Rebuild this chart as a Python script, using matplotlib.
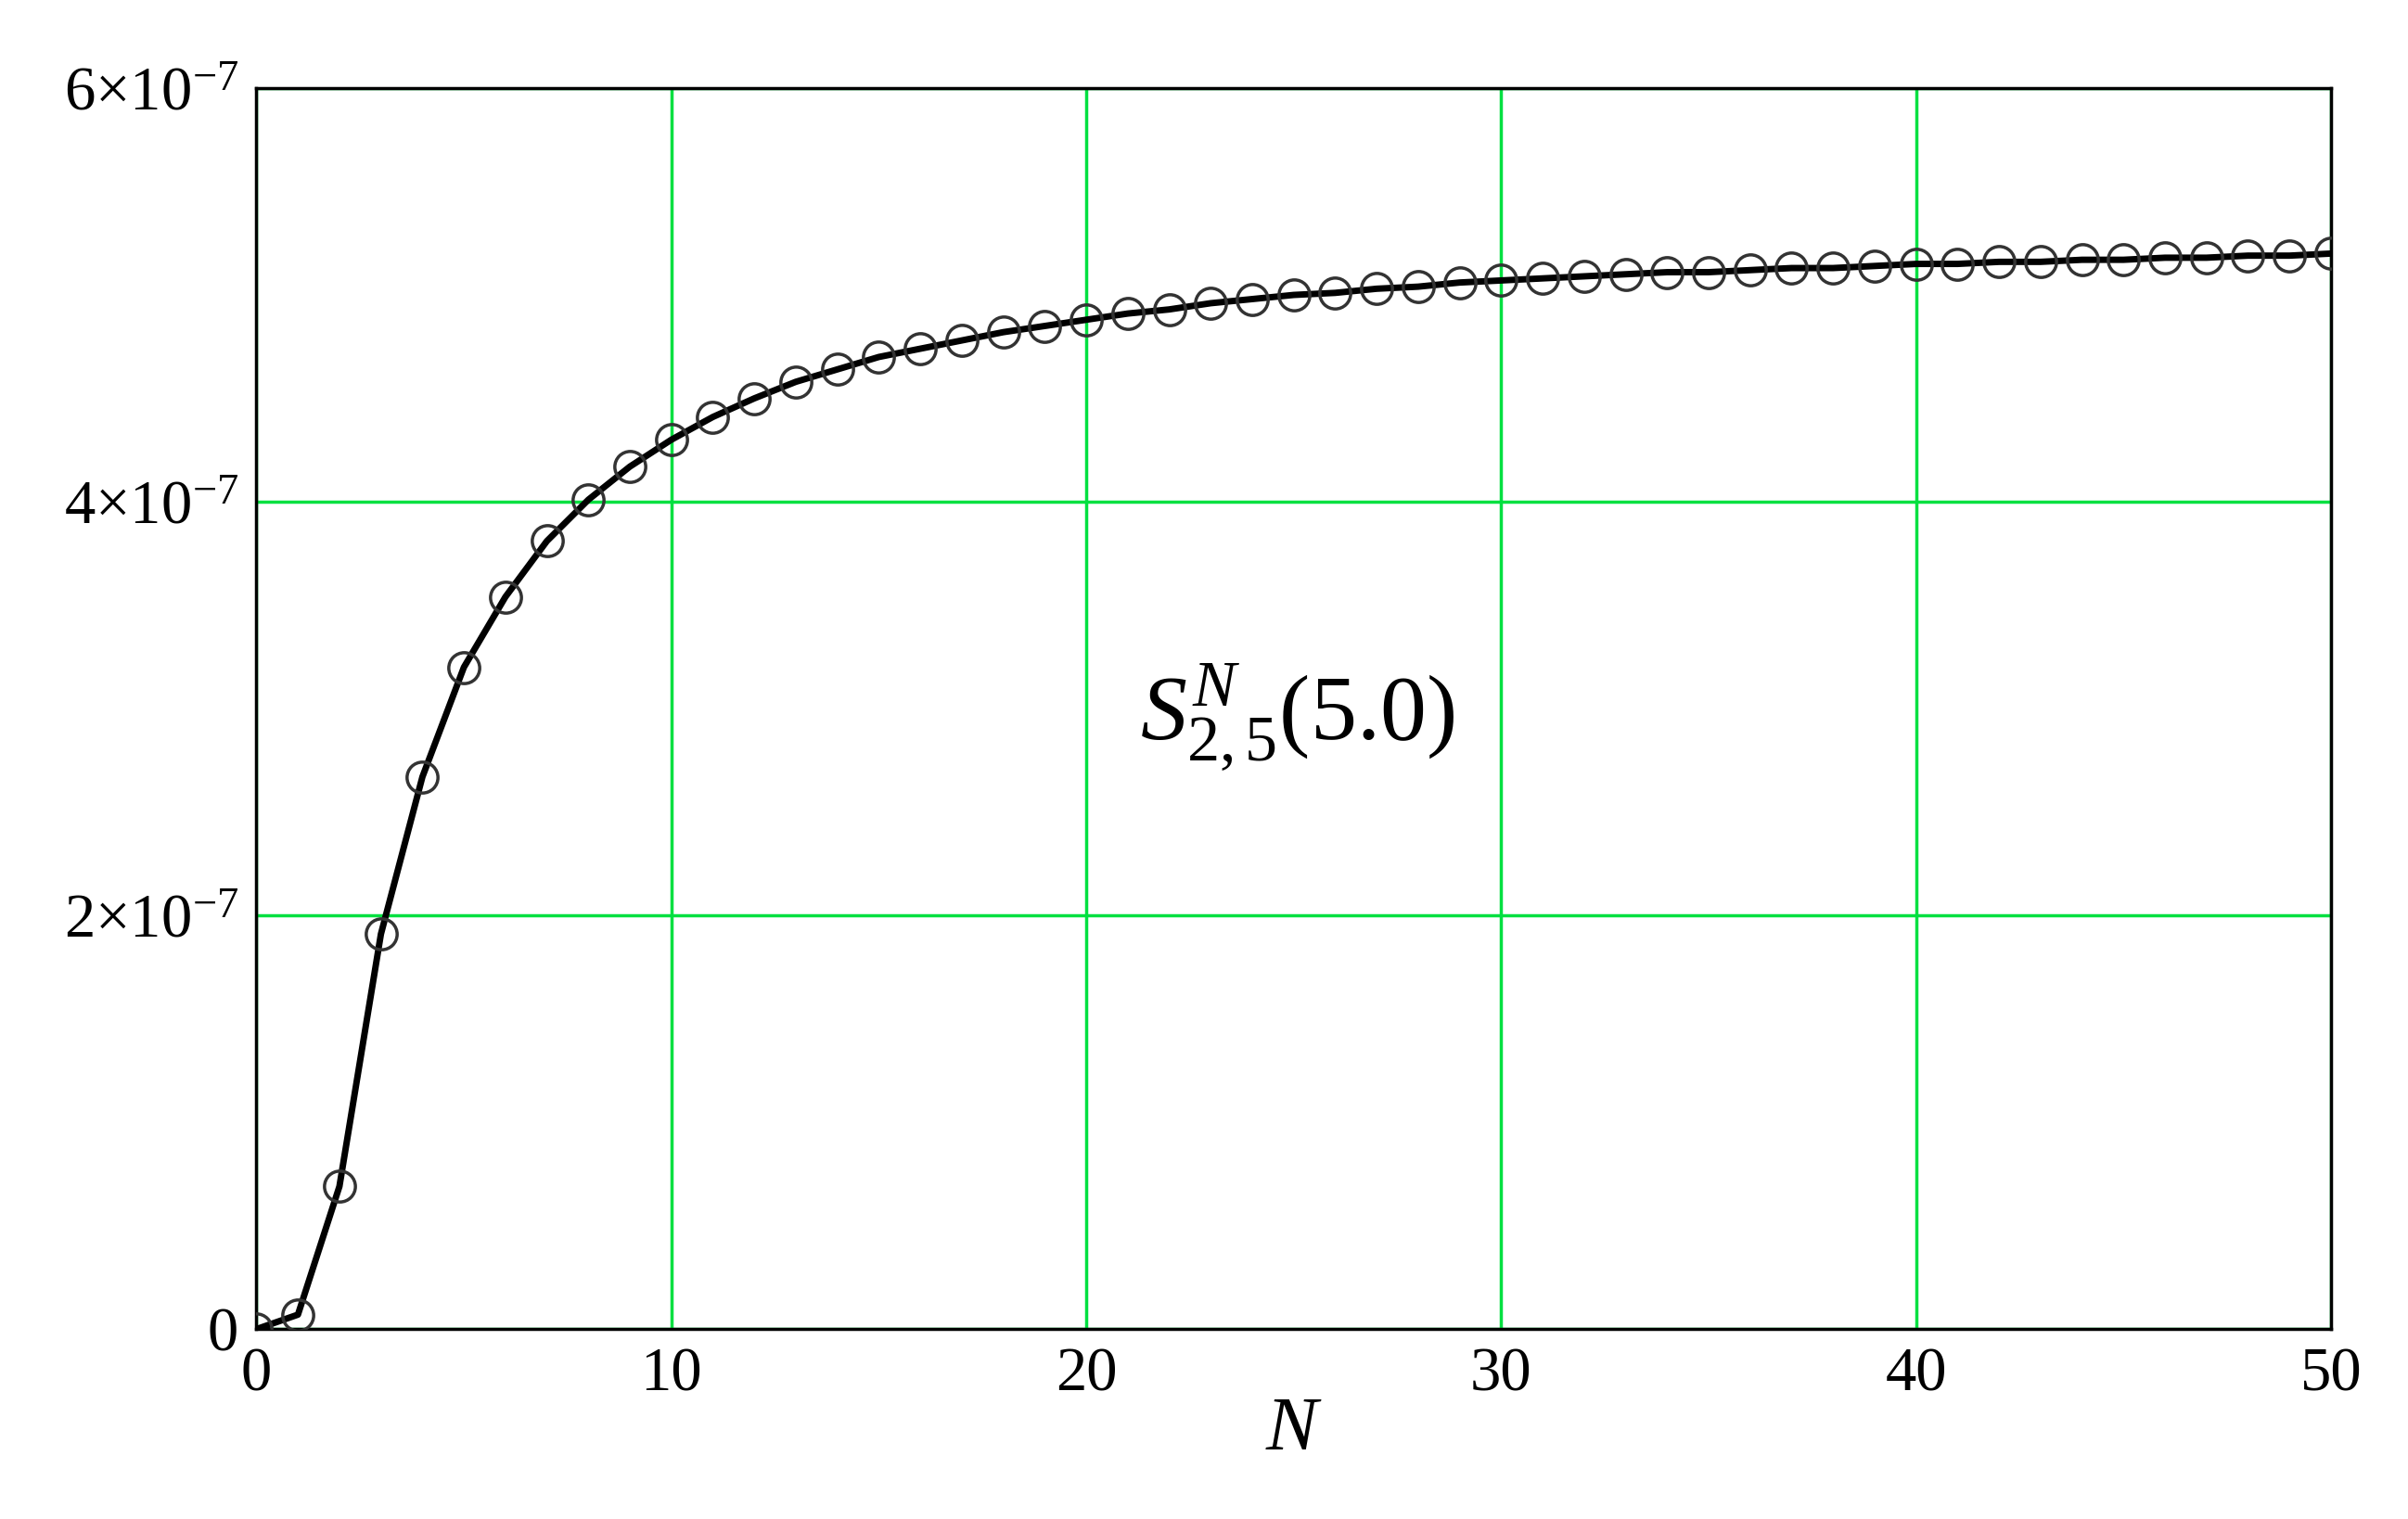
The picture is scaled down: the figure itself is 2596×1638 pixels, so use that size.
import matplotlib
matplotlib.use("Agg")
import matplotlib.pyplot as plt
import numpy as np

N = list(range(51))
S = [0.0, 0.07, 0.69, 1.91, 2.67, 3.20, 3.54, 3.81, 4.01, 4.17, 4.30, 4.41, 4.50, 4.58, 4.64,
     4.70, 4.74, 4.78, 4.82, 4.85, 4.88, 4.91, 4.93, 4.96, 4.98, 5.00, 5.01, 5.03, 5.04, 5.06,
     5.07, 5.08, 5.09, 5.10, 5.11, 5.11, 5.12, 5.13, 5.13, 5.14, 5.15, 5.15, 5.16, 5.16, 5.17,
     5.17, 5.18, 5.18, 5.19, 5.19, 5.20]
S = [v * 1e-7 for v in S]
xticks = [0, 10, 20, 30, 40, 50]
yticks = [0, 2e-7, 4e-7, 6e-7]
ylabels = ["0", r"$2{\times}10^{-7}$", r"$4{\times}10^{-7}$", r"$6{\times}10^{-7}$"]

plt.rcParams['font.family'] = ['Liberation Serif', 'DejaVu Serif']
plt.rcParams['mathtext.fontset'] = 'custom'
plt.rcParams['mathtext.rm'] = 'Liberation Serif'
plt.rcParams['mathtext.it'] = 'Liberation Serif:italic'

fig = plt.figure(figsize=(25.96, 16.38), dpi=100)
ax = fig.add_axes([0.1065, 0.125, 0.8615, 0.817])
ax.plot(N, S, color='black', lw=5, zorder=3)
ax.plot(N, S, 'o', mfc='none', mec='#333333', ms=24, mew=2.5, zorder=4)
ax.set_xlim(0, 50)
ax.set_ylim(0, 6e-7)
ax.set_xticks(xticks)
ax.set_yticks(yticks)
ax.set_yticklabels(ylabels)
ax.grid(True, color='#00e040', lw=2.5)
ax.tick_params(labelsize=48, length=0, pad=14)
for s in ax.spines.values():
    s.set_linewidth(2.5)
ax.set_xlabel('$N$', fontsize=60, labelpad=-6)
ax.text(21.3, 2.85e-7, r'$S_{2,5}^{N}$(5.0)', fontsize=72)
fig.savefig('out.png', dpi=100)
